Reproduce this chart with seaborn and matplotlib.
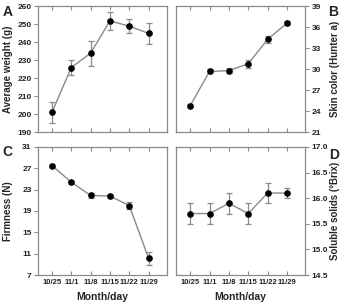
import numpy as np
import pandas as pd
import matplotlib
matplotlib.use("Agg")
import matplotlib.pyplot as plt
import seaborn as sns

dates = ["10/25", "11/1", "11/8", "11/15", "11/22", "11/29"]

weight = [201, 226, 234, 252, 249, 245]
weight_err = [6, 4, 7, 5, 4, 6]
color_a = [24.8, 29.7, 29.8, 30.8, 34.3, 36.6]
color_err = [0.2, 0.3, 0.4, 0.6, 0.5, 0.3]
firmness = [27.5, 24.4, 21.9, 21.8, 20.0, 10.1]
firm_err = [0.3, 0.3, 0.5, 0.3, 0.6, 1.2]
solids = [15.7, 15.7, 15.9, 15.7, 16.1, 16.1]
solids_err = [0.2, 0.2, 0.2, 0.2, 0.2, 0.1]

sns.set_style("ticks")
plt.rcParams['font.family'] = ['Liberation Sans', 'DejaVu Sans']
plt.rcParams['font.weight'] = 'bold'

fig = plt.figure(figsize=(3.44, 3.08), dpi=100)
pos = {
    "A": [0.110, 0.571, 0.375, 0.408],
    "B": [0.512, 0.571, 0.375, 0.408],
    "C": [0.110, 0.107, 0.375, 0.416],
    "D": [0.512, 0.107, 0.375, 0.416],
}
panels = [
    ("A", weight, weight_err, "Average weight (g)", (190, 260), np.arange(190, 261, 10), "left", "{:.0f}"),
    ("B", color_a, color_err, "Skin color (Hunter a)", (21, 39), np.arange(21, 40, 3), "right", "{:.0f}"),
    ("C", firmness, firm_err, "Firmness (N)", (7, 31), np.arange(7, 32, 4), "left", "{:.0f}"),
    ("D", solids, solids_err, "Soluble solids (°Brix)", (14.5, 17.0), np.arange(14.5, 17.01, 0.5), "right", "{:.1f}"),
]

grey = "#8a8a8a"
x = np.arange(len(dates))
for name, vals, errs, ylab, ylim, yticks, side, fmt in panels:
    ax = fig.add_axes(pos[name])
    df = pd.DataFrame({"x": x, "y": vals})
    ax.errorbar(x, vals, yerr=errs, fmt="none", ecolor=grey, elinewidth=0.9,
                capsize=2, capthick=0.9, zorder=2)
    sns.lineplot(data=df, x="x", y="y", ax=ax, color=grey, lw=1.0, zorder=3,
                 marker="o", markersize=4, markerfacecolor="black",
                 markeredgecolor="black")
    ax.set_xlim(-0.73, 5.94)
    ax.set_ylim(*ylim)
    ax.set_yticks(yticks)
    ax.set_yticklabels([fmt.format(v) for v in yticks])
    ax.set_xticks(x)
    for s in ax.spines.values():
        s.set_color(grey)
        s.set_linewidth(0.9)
    ax.tick_params(axis="both", colors=grey, labelcolor="#222222",
                   length=3, width=0.8, pad=1.5)
    ax.tick_params(axis="y", labelsize=6)
    ax.tick_params(axis="x", top=True, direction="in", pad=3, labelsize=5.5)
    ax.set_ylabel(ylab, fontsize=7, fontweight="bold")
    if side == "right":
        ax.yaxis.tick_right()
        ax.yaxis.set_label_position("right")
        ax.tick_params(axis="y", left=False, right=True)
        ax.yaxis.set_label_coords(1.19, 0.5)
    else:
        ax.yaxis.set_label_coords(-0.19, 0.5)
    if name in ("C", "D"):
        ax.set_xticklabels(dates)
        ax.set_xlabel("Month/day", fontsize=7.5, fontweight="bold", labelpad=4)
    else:
        ax.set_xticklabels([])
        ax.set_xlabel("")

fig.text(0.008, 0.985, "A", fontsize=10, fontweight="bold", va="top")
fig.text(0.955, 0.985, "B", fontsize=10, fontweight="bold", va="top")
fig.text(0.008, 0.530, "C", fontsize=10, fontweight="bold", va="top")
fig.text(0.958, 0.520, "D", fontsize=10, fontweight="bold", va="top")

fig.savefig("out.png", dpi=100)
